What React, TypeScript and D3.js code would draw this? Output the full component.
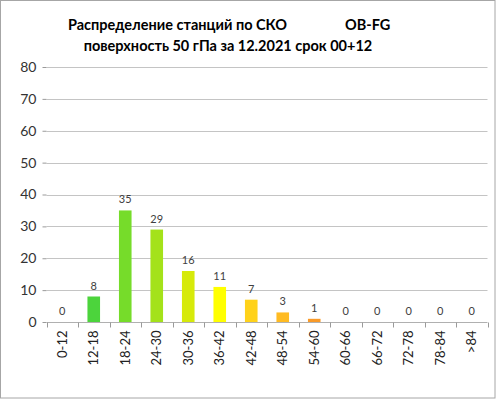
import { useEffect, useRef } from "react";
import * as d3 from "d3";

// bins of RMS (OB-FG), number of stations in each
const categories = ["0-12", "12-18", "18-24", "24-30", "30-36", "36-42", "42-48", "48-54", "54-60", "60-66", "66-72", "72-78", "78-84", ">84"];
const counts = [0, 8, 35, 29, 16, 11, 7, 3, 1, 0, 0, 0, 0, 0];
const barColors = ["#4cd43c", "#4cd43c", "#76dc2a", "#a4e21a", "#d6ea0a", "#ffff00", "#ffd21a", "#ffbb22", "#f99a28", "#f99a28", "#f99a28", "#f99a28", "#f99a28", "#f99a28"];
const yTicks = [0, 10, 20, 30, 40, 50, 60, 70, 80];
const titleLeft = "Распределение станций по СКО";
const titleRight = "OB-FG";
const titleLine2 = "поверхность 50 гПа за 12.2021 срок 00+12";

const width = 496;
const height = 399;
const margin = { top: 67, right: 8.5, bottom: 77, left: 46.5 };

export default function App() {
    const ref = useRef<SVGSVGElement>(null);

    useEffect(() => {
        const svg = d3.select(ref.current);
        svg.selectAll("*").remove();

        const font = "Lato, 'Open Sans', sans-serif";

        // chart border
        svg.append("rect")
            .attr("x", 0.5).attr("y", 0.5)
            .attr("width", width - 1.5).attr("height", height - 1.5)
            .attr("fill", "#fff")
            .attr("stroke", "#a6a6a6");

        const x = d3.scaleBand<string>()
            .domain(categories)
            .range([margin.left, width - margin.right])
            .paddingInner(0.6)
            .paddingOuter(0.3);

        const y = d3.scaleLinear()
            .domain([0, 80])
            .range([height - margin.bottom, margin.top]);

        // grid lines
        svg.append("g")
            .selectAll("line")
            .data(yTicks.filter(d => d > 0))
            .join("line")
            .attr("x1", margin.left).attr("x2", width - margin.right)
            .attr("y1", d => Math.round(y(d)) + 0.5).attr("y2", d => Math.round(y(d)) + 0.5)
            .attr("stroke", "#c4c4c4");

        // y axis
        svg.append("g")
            .attr("transform", `translate(${margin.left},0)`)
            .call(d3.axisLeft(y).tickValues(yTicks).tickSize(4).tickPadding(6))
            .call(g => g.select(".domain").remove())
            .call(g => g.selectAll(".tick line").attr("stroke", "#9a9a9a"))
            .call(g => g.selectAll(".tick text")
                .attr("font-family", font).attr("font-size", 14).attr("fill", "#333"));

        // bars
        svg.append("g")
            .selectAll("rect")
            .data(counts)
            .join("rect")
            .attr("x", (_, i) => x(categories[i])!)
            .attr("y", d => y(d))
            .attr("width", x.bandwidth())
            .attr("height", d => y(0) - y(d))
            .attr("fill", (_, i) => barColors[i]);

        // value labels
        svg.append("g")
            .selectAll("text")
            .data(counts)
            .join("text")
            .attr("x", (_, i) => x(categories[i])! + x.bandwidth() / 2)
            .attr("y", d => y(d) - 7)
            .attr("text-anchor", "middle")
            .attr("font-family", font)
            .attr("font-size", 11)
            .attr("fill", "#404040")
            .text(d => d);

        // x axis with boundary ticks
        const step = x.step();
        const x0 = margin.left;
        const base = Math.round(y(0)) + 0.5;
        const xa = svg.append("g");
        xa.append("line")
            .attr("x1", x0).attr("x2", width - margin.right)
            .attr("y1", base).attr("y2", base)
            .attr("stroke", "#b0b0b0");
        xa.selectAll("line.tk")
            .data(d3.range(categories.length + 1))
            .join("line")
            .attr("class", "tk")
            .attr("x1", i => Math.round(x0 + i * step) + 0.5)
            .attr("x2", i => Math.round(x0 + i * step) + 0.5)
            .attr("y1", base).attr("y2", base + 5)
            .attr("stroke", "#9a9a9a");
        xa.selectAll("text")
            .data(categories)
            .join("text")
            .attr("transform", d => `translate(${x(d)! + x.bandwidth() / 2 + 4.5},${base + 8}) rotate(-90)`)
            .attr("text-anchor", "end")
            .attr("font-family", font)
            .attr("font-size", 13)
            .attr("fill", "#222")
            .text(d => d);

        // title
        const t = svg.append("g")
            .attr("font-family", font)
            .attr("font-weight", "bold")
            .attr("font-size", 14.5)
            .attr("fill", "#000");
        t.append("text").attr("x", 68).attr("y", 30).text(titleLeft);
        t.append("text").attr("x", 345).attr("y", 30).text(titleRight);
        t.append("text").attr("x", 228).attr("y", 51)
            .attr("text-anchor", "middle")
            .text(titleLine2);
    }, []);

    return (
        <svg ref={ref} width={width} height={height}
            style={{ position: "absolute", left: 0, top: 0 }} />
    );
}
